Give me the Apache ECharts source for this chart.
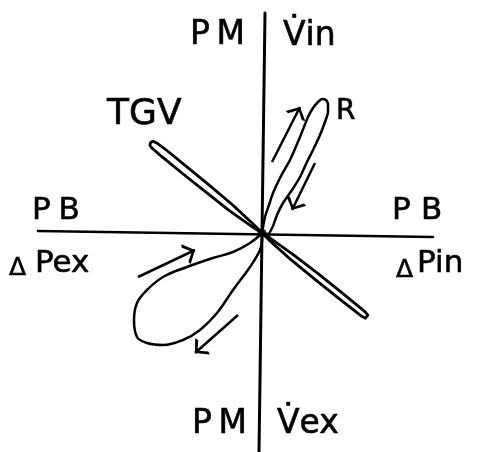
<!DOCTYPE html>
<html>
<head>
<meta charset="utf-8">
<script src="https://cdn.jsdelivr.net/npm/echarts@6/dist/echarts.min.js"></script>
<style>
  html, body { margin: 0; padding: 0; background: #fff; }
  #chart { width: 478px; height: 452px; }
</style>
</head>
<body>
<div id="chart"></div>
<script>
// Axes of the diagram (hand drawn, so both are very slightly tilted)
const axisVertical = [[3, 220], [-3, -219]];
const axisHorizontal = [[-224, 2], [171, -4]];

// TGV loop: a narrow closed loop through the origin (PB vs. ΔP)
const tgvLoop = [
  [0, 0],
  [-7.0, 7.2], [-29.0, 27.7], [-51.9, 47.1], [-75.1, 66.2], [-94.5, 82.0], [-104.9, 89.8],
  [-106.4, 91.0], [-109.0, 91.8], [-111.3, 90.5], [-112.1, 87.9], [-110.8, 85.6],
  [-109.3, 84.4], [-99.5, 75.8], [-80.1, 60.0], [-56.7, 41.3], [-33.0, 22.7], [-8.6, 5.4],
  [0, 0],
  [7.1, -7.1], [29.5, -27.2], [52.7, -46.2], [76.1, -64.9], [91.8, -77.2], [99.8, -83.3],
  [101.4, -84.6], [103.4, -85.2], [105.3, -84.1], [105.9, -82.1], [104.8, -80.2],
  [103.2, -78.9], [95.6, -72.6], [80.1, -59.9], [56.7, -41.2], [32.9, -22.8], [8.5, -5.3],
  [0, 0]
];

// Resistance loop, inspiratory side (PM vs. V̇in)
const rLoop = [
  [0, 0], [3, 16], [7, 28], [11, 40], [19, 57], [28, 73], [38, 96], [46, 116],
  [51, 125], [56, 131], [60, 134], [64, 133], [66, 129], [66, 121], [63, 111],
  [58, 98], [51, 83], [44, 69], [38, 56], [30, 43], [21, 30], [15, 18], [11, 7],
  [6, -1], [0, 0]
];

// Expiratory loop (PM vs. V̇ex)
const exLoop = [
  [0, 0], [-12, -10], [-29, -19], [-49, -25], [-75, -34], [-99, -44], [-115, -57],
  [-125, -70], [-128, -87], [-125, -104], [-115, -110], [-99, -112], [-79, -107],
  [-62, -97], [-45, -80], [-29, -57], [-12, -34], [-2, -17], [0, -7], [0, 0]
];

// Direction arrows: [from, to]
const arrows = [
  [[10, 71], [38, 126]],
  [[53, 70], [30, 23]],
  [[-124, -44], [-67, -17]],
  [[-24, -82], [-67, -120]]
];

const FONT = '"DejaVu Sans"';
const ink = '#000';

// Open arrow head; tip sits at the centre of the symbol box
const arrowHead = 'path://M0,10 L6,0 L12,10 L10.2,11 L6,3.4 L1.8,11 Z M6,-11 L6.01,-11 L6,-10.99 Z';

const labels = [
  { text: 'P\u2009M', x: 190, y: 35, size: 33 },
  { text: 'V\u0307in', x: 283, y: 36, size: 33 },
  { text: 'TGV', x: 107, y: 115, size: 36 },
  { text: 'R', x: 336, y: 112, size: 28 },
  { text: 'P\u2005B', x: 32, y: 211, size: 31 },
  { text: 'Δ', x: 9, y: 268, size: 25 },
  { text: 'Pex', x: 35, y: 264, size: 31 },
  { text: 'P\u2004B', x: 392, y: 211, size: 31 },
  { text: 'Δ', x: 396, y: 270, size: 25 },
  { text: 'Pin', x: 417, y: 264, size: 31 },
  { text: 'P\u2009M', x: 192, y: 424, size: 33 },
  { text: 'V\u0307ex', x: 277, y: 424, size: 33 }
];

const graphic = labels.map(l => ({
  type: 'text',
  x: l.x, y: l.y,
  style: {
    text: l.text,
    fontSize: l.size,
    fontFamily: FONT,
    align: 'left',
    verticalAlign: 'middle',
    fill: ink,
    stroke: ink,
    lineWidth: 0.6
  }
}));

const lineSeries = (data, width, smooth) => ({
  type: 'line',
  data: data,
  showSymbol: false,
  symbol: 'none',
  smooth: smooth,
  lineStyle: { color: ink, width: width, cap: 'round', join: 'round' },
  silent: true
});

const chart = echarts.init(document.getElementById('chart'), null, { renderer: 'canvas' });
chart.setOption({
  animation: false,
  backgroundColor: '#fff',
  grid: { left: 0, right: 0, top: 0, bottom: 0 },
  xAxis: { type: 'value', min: -262, max: 216, show: false },
  yAxis: { type: 'value', min: -219, max: 233, show: false },
  graphic: graphic,
  series: [
    lineSeries(axisVertical, 3, false),
    lineSeries(axisHorizontal, 2.6, false),
    lineSeries(tgvLoop, 2.8, false),
    lineSeries(rLoop, 2.5, 0.2),
    lineSeries(exLoop, 2.5, 0.4),
    {
      type: 'lines',
      coordinateSystem: 'cartesian2d',
      symbol: ['none', arrowHead],
      symbolSize: [12, 22],
      lineStyle: { color: ink, width: 2.5, opacity: 1, curveness: 0 },
      data: arrows.map(a => ({ coords: a })),
      silent: true
    },
    {
      type: 'scatter',
      data: [[0, 0]],
      symbolSize: 9,
      itemStyle: { color: ink },
      silent: true
    }
  ]
});
</script>
</body>
</html>
